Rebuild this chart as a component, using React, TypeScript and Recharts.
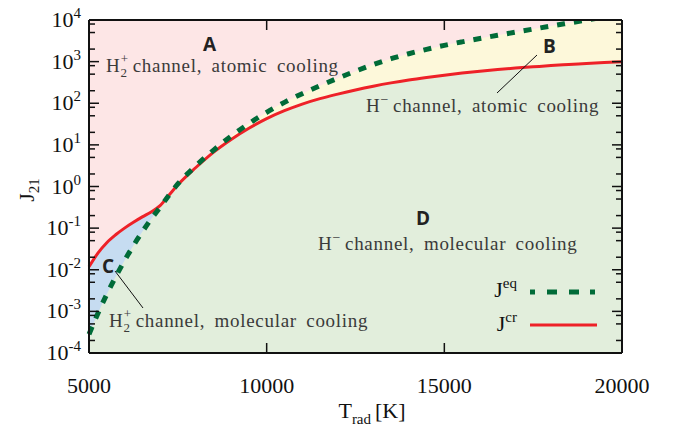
import { ComposedChart, Area, Line, XAxis, YAxis, CartesianGrid } from "recharts"

// radiation temperature grid [K]
const tempK = [
  5000, 5250, 5500, 5750, 6000, 6250, 6500, 6750, 7000, 7250, 7500, 8000, 8500, 9000, 9500, 10000,
  10500, 11000, 11500, 12000, 12500, 13000, 13500, 14000, 14500, 15000, 15500, 16000, 16500, 17000,
  17500, 18000, 18500, 19000, 19500, 20000,
]

// J^cr (red solid)
const jCr = [
  0.01175, 0.0251, 0.0447, 0.0692, 0.1, 0.138, 0.186, 0.245, 0.347, 0.617, 1.096, 2.82, 6.61, 13.5, 25.1, 42.7,
  66.1, 95.5, 129, 166, 209, 257, 309, 363, 417, 473, 531, 589, 646, 700,
  750, 804, 851, 902, 951, 1000,
]

// J^eq (green dashed)
const jEq = [
  0.000282, 0.000891, 0.00257, 0.00676, 0.0166, 0.038, 0.0813, 0.166, 0.316, 0.617, 1.15, 3.09, 7.41, 16.2, 32.4, 60.3,
  105, 170, 263, 398, 589, 851, 1175, 1549, 1972, 2455, 2985, 3589, 4285, 5093,
  6039, 7145, 8433, 9954, 11749, 13868,
]

const xTicks = [5000, 10000, 15000, 20000]
const xInnerTicks = [10000, 15000]
const yTicks = [1e-4, 1e-3, 1e-2, 1e-1, 1, 10, 100, 1000, 10000]
const yMinorTicks = [
  2e-4, 5e-4, 8e-4, 2e-3, 5e-3, 8e-3, 2e-2, 5e-2, 8e-2, 0.2, 0.5, 0.8,
  2, 5, 8, 20, 50, 80, 200, 500, 800, 2000, 5000, 8000,
]

const data = tempK.map((t, i) => ({
  t,
  cr: jCr[i],
  eq: jEq[i],
  upper: Math.max(jCr[i], jEq[i]),
  lower: Math.min(jCr[i], jEq[i]),
}))

const SERIF = "'Liberation Serif', 'Times New Roman', serif"
const SANS = "'Open Sans', 'Noto Sans', sans-serif"
const RED = "#ee2128"
const GREEN = "#006b38"
const NOTE = "#3a3a3a"
const INK = "#111"
const Y_DOMAIN = [1e-4, 1e4]
const X_DOMAIN = [5000, 20000]

// chart size and axis sizes -> plot box
const W = 681
const H = 430
const AXIS_LEFT = 89
const AXIS_RIGHT = 59
const AXIS_TOP = 20
const AXIS_BOTTOM = 77
const PLOT = { left: AXIS_LEFT, right: W - AXIS_RIGHT, top: AXIS_TOP, bottom: H - AXIS_BOTTOM }

// same mapping as the axes, used only for the inward tick marks
const tx = (t: number) => PLOT.left + ((t - X_DOMAIN[0]) / (X_DOMAIN[1] - X_DOMAIN[0])) * (PLOT.right - PLOT.left)
const ty = (v: number) => {
  const lo = Math.log10(Y_DOMAIN[0])
  const hi = Math.log10(Y_DOMAIN[1])
  return PLOT.bottom - ((Math.log10(v) - lo) / (hi - lo)) * (PLOT.bottom - PLOT.top)
}

// eslint-disable-next-line @typescript-eslint/no-explicit-any
function YTick({ x, y, payload }: any) {
  return (
    <text x={x - 8} y={y + 7} textAnchor="end" fontFamily={SERIF} fontSize={22} fill={INK}>
      10
      <tspan dy={-9} fontSize={15}>{Math.round(Math.log10(payload.value))}</tspan>
    </text>
  )
}

// eslint-disable-next-line @typescript-eslint/no-explicit-any
function XTick({ x, y, payload }: any) {
  return (
    <text x={x} y={y + 40} textAnchor="middle" fontFamily={SERIF} fontSize={22} fill={INK}>
      {payload.value}
    </text>
  )
}

function TickMarks() {
  const s = { stroke: INK, strokeWidth: 1.5 }
  return (
    <g>
      {yTicks.map((v) => (
        <g key={`M${v}`}>
          <line x1={PLOT.left} x2={PLOT.left + 10} y1={ty(v)} y2={ty(v)} {...s} />
          <line x1={PLOT.right} x2={PLOT.right - 10} y1={ty(v)} y2={ty(v)} {...s} />
        </g>
      ))}
      {yMinorTicks.map((v) => (
        <g key={`m${v}`}>
          <line x1={PLOT.left} x2={PLOT.left + 6} y1={ty(v)} y2={ty(v)} {...s} />
          <line x1={PLOT.right} x2={PLOT.right - 6} y1={ty(v)} y2={ty(v)} {...s} />
        </g>
      ))}
      {xInnerTicks.map((t) => (
        <g key={`x${t}`}>
          <line x1={tx(t)} x2={tx(t)} y1={PLOT.bottom} y2={PLOT.bottom - 10} {...s} />
          <line x1={tx(t)} x2={tx(t)} y1={PLOT.top} y2={PLOT.top + 10} {...s} />
        </g>
      ))}
    </g>
  )
}

// labels, leader lines, legend and tick marks drawn over the chart
function Notes() {
  const txt = { fontFamily: SERIF, fontSize: 19, fill: NOTE, letterSpacing: 0.7, wordSpacing: 4 }
  const big = { fontFamily: SANS, fontSize: 19, fontWeight: 700, fill: "#222" }
  return (
    <svg width={W} height={H} style={{ position: "absolute", left: 0, top: 0, pointerEvents: "none" }}>
      <TickMarks />

      <text x={203} y={51} {...big}>A</text>
      <text x={543} y={53} {...big}>B</text>
      <text x={102} y={273} {...big}>C</text>
      <text x={416} y={225} {...big}>D</text>

      <text x={106} y={72} {...txt}>
        H<tspan dy={5} fontSize={13}>2</tspan>
        <tspan dx={-7} dy={-14} fontSize={13}>+</tspan>
        <tspan dx={4} dy={9}>channel, atomic cooling</tspan>
      </text>
      <text x={366} y={112} {...txt}>
        H<tspan dy={-8} fontSize={14}>−</tspan>
        <tspan dx={4} dy={8}>channel, atomic cooling</tspan>
      </text>
      <text x={318} y={250} {...txt}>
        H<tspan dy={-8} fontSize={14}>−</tspan>
        <tspan dx={4} dy={8}>channel, molecular cooling</tspan>
      </text>
      <text x={109} y={327} {...txt}>
        H<tspan dy={5} fontSize={13}>2</tspan>
        <tspan dx={-7} dy={-14} fontSize={13}>+</tspan>
        <tspan dx={4} dy={9}>channel, molecular cooling</tspan>
      </text>

      <line x1={537} y1={55} x2={497} y2={93} stroke={INK} strokeWidth={1} />
      <line x1={115} y1={271} x2={143} y2={308} stroke={INK} strokeWidth={1} />

      <text x={517} y={297} textAnchor="end" fontFamily={SERIF} fontSize={22} fill={INK}>
        J<tspan dy={-9} fontSize={15}>eq</tspan>
      </text>
      <line x1={530} y1={292} x2={597} y2={292} stroke={GREEN} strokeWidth={5} strokeDasharray="5 12 10 12 10 11 5 40" />
      <text x={517} y={331} textAnchor="end" fontFamily={SERIF} fontSize={22} fill={INK}>
        J<tspan dy={-9} fontSize={15}>cr</tspan>
      </text>
      <line x1={530} y1={325} x2={597} y2={325} stroke={RED} strokeWidth={3} />

      <text transform="translate(34,190) rotate(-90)" textAnchor="middle" fontFamily={SERIF} fontSize={22} fill={INK}>
        J<tspan dy={5} fontSize={15}>21</tspan>
      </text>
      <text x={372} y={418} textAnchor="middle" fontFamily={SERIF} fontSize={22} fill={INK}>
        T<tspan dy={6} fontSize={15}>rad</tspan>
        <tspan dy={-6} dx={4}>[K]</tspan>
      </text>
    </svg>
  )
}

export default function App() {
  const frame = { stroke: INK, strokeWidth: 2 }
  return (
    <div style={{ position: "absolute", left: 0, top: 0, width: W, height: H, background: "#fff" }}>
      <ComposedChart width={W} height={H} data={data} margin={{ top: 0, right: 0, bottom: 0, left: 0 }}>
        <CartesianGrid horizontal={false} vertical={false} fill="#fde6e6" />

        {/* B region (yellow) up to the higher curve, C (blue) up to J^cr, D (green) below both */}
        <Area type="monotone" dataKey="upper" baseValue={1e-4} fill="#fdf8da" fillOpacity={1} stroke="none" isAnimationActive={false} />
        <Area type="monotone" dataKey="cr" baseValue={1e-4} fill="#c6dcf1" fillOpacity={1} stroke="none" isAnimationActive={false} />
        <Area type="monotone" dataKey="lower" baseValue={1e-4} fill="#e2eedc" fillOpacity={1} stroke="none" isAnimationActive={false} />

        <Line type="monotone" dataKey="cr" stroke={RED} strokeWidth={3} dot={false} isAnimationActive={false} />
        <Line type="monotone" dataKey="eq" stroke={GREEN} strokeWidth={5} strokeDasharray="8 9" dot={false} isAnimationActive={false} />

        <XAxis dataKey="t" type="number" domain={X_DOMAIN} ticks={xTicks} height={AXIS_BOTTOM} interval={0}
          tick={<XTick />} tickSize={0} tickMargin={0} tickLine={false} axisLine={frame} />
        <XAxis xAxisId="top" orientation="top" dataKey="t" type="number" domain={X_DOMAIN} ticks={xTicks} height={AXIS_TOP}
          interval={0} tick={false} tickLine={false} axisLine={frame} />

        <YAxis type="number" scale="log" domain={Y_DOMAIN} allowDataOverflow ticks={yTicks} width={AXIS_LEFT} interval={0}
          tick={<YTick />} tickSize={0} tickMargin={0} tickLine={false} axisLine={frame} />
        <YAxis yAxisId="right" orientation="right" type="number" scale="log" domain={Y_DOMAIN} allowDataOverflow
          ticks={yTicks} width={AXIS_RIGHT} interval={0} tick={false} tickLine={false} axisLine={frame} />
      </ComposedChart>
      <Notes />
    </div>
  )
}
